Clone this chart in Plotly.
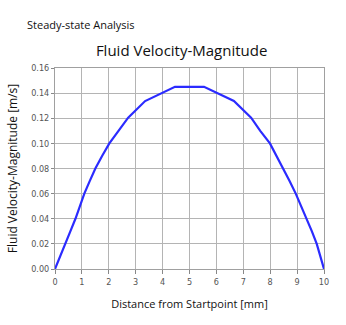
import plotly.graph_objects as go

distance_mm = [0.0, 0.19, 0.38, 0.57, 0.76, 0.92, 1.09, 1.29, 1.50, 1.75, 2.02, 2.36, 2.72,
               3.35, 4.46, 5.54, 6.65,
               7.29, 7.63, 7.99, 8.24, 8.49, 8.72, 8.95, 9.16, 9.36, 9.55, 9.73, 9.86, 10.0]
velocity_ms = [0.0, 0.0105, 0.020, 0.030, 0.040, 0.050, 0.060, 0.070, 0.080, 0.090, 0.100, 0.110, 0.1205,
               0.1337, 0.1450, 0.1450, 0.1337,
               0.1205, 0.110, 0.100, 0.090, 0.080, 0.070, 0.060, 0.050, 0.040, 0.030, 0.020, 0.0105, 0.0]

x_ticks = list(range(0, 11))
y_ticks = [0.00, 0.02, 0.04, 0.06, 0.08, 0.10, 0.12, 0.14, 0.16]

fig = go.Figure()
fig.add_trace(go.Scatter(
    x=distance_mm, y=velocity_ms, mode="lines",
    line=dict(color="#2b2bff", width=2.2),
    showlegend=False, hoverinfo="skip",
))

tick_font = dict(family="Liberation Sans Narrow, Arial Narrow, DejaVu Sans Condensed, sans-serif",
                 size=9, color="#555555")

fig.update_layout(
    width=346, height=325,
    margin=dict(l=55, r=22, t=68, b=56),
    paper_bgcolor="white", plot_bgcolor="white",
    title=dict(text="Fluid Velocity-Magnitude", x=0.525, xanchor="center",
               y=1 - 51 / 325, yanchor="middle",
               font=dict(family="Open Sans, Noto Sans, sans-serif", size=15, color="#111111")),
    font=dict(family="Open Sans, Noto Sans, sans-serif", color="#111111"),
    annotations=[dict(text="Steady-state Analysis", xref="paper", yref="paper",
                      x=(25 - 55) / 269, y=1 + (68 - 24) / 201, xanchor="left", yanchor="middle",
                      showarrow=False,
                      font=dict(family="Open Sans, Noto Sans, sans-serif", size=11, color="#111111"))],
)

fig.update_xaxes(
    range=[0, 10], tickvals=x_ticks, ticktext=[str(v) for v in x_ticks],
    showgrid=True, gridcolor="#b4b4b4", gridwidth=1,
    showline=True, linecolor="#a0a0a0", linewidth=1, mirror=True,
    ticks="outside", ticklen=4, tickcolor="#888888",
    tickfont=tick_font, zeroline=False,
    title=dict(text="Distance from Startpoint [mm]", standoff=14,
               font=dict(family="Open Sans, Noto Sans, sans-serif", size=11, color="#111111")),
)
fig.update_yaxes(
    range=[0, 0.16], tickvals=y_ticks, ticktext=[f"{v:.2f}" for v in y_ticks],
    showgrid=True, gridcolor="#b4b4b4", gridwidth=1,
    showline=True, linecolor="#a0a0a0", linewidth=1, mirror=True,
    ticks="outside", ticklen=3, tickcolor="#888888",
    tickfont=tick_font, zeroline=False,
    title=dict(text="Fluid Velocity-Magnitude [m/s]", standoff=10,
               font=dict(family="Open Sans, Noto Sans, sans-serif", size=12, color="#111111")),
)

fig.write_html("out.html")
